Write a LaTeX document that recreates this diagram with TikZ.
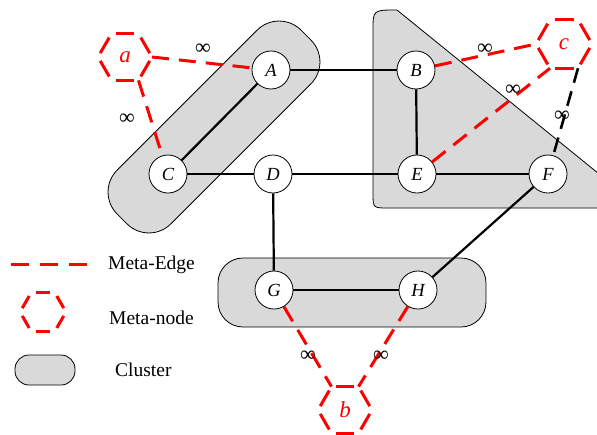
\documentclass[tikz,border=0pt]{standalone}
\usepackage{fontspec}
\setmainfont{Liberation Serif}
\usetikzlibrary{shapes.geometric}
\tikzset{
 vertex/.style={circle, draw, line width=0.8pt, fill=white, minimum size=38pt, inner sep=0pt, font=\fontsize{18.5}{20}\selectfont\itshape},
 cluster/.style={draw, line width=0.8pt, fill=gray!30},
 edge/.style={line width=2.2pt},
 metaline/.style={red, line width=3pt, dash pattern=on 17pt off 10pt},
 blackmeta/.style={black, line width=2.6pt, dash pattern=on 15pt off 9pt},
 hexnode/.style={regular polygon, regular polygon sides=6, minimum size=54pt, inner sep=0pt, outer sep=0pt, text=red, font=\fontsize{23}{24}\selectfont\itshape},
 hexside/.style={red, line width=3pt, shorten >=4.5pt, shorten <=4.5pt},
 inf/.style={font=\fontsize{22}{22}\selectfont, inner sep=0pt},
 legendtext/.style={font=\fontsize{19.5}{22}\selectfont, anchor=west, inner sep=0pt},
}
\newcommand\hexsides[1]{\foreach \p/\q in {0/60,60/120,120/180,180/240,240/300,300/360}{\draw[hexside] (#1.\p) -- (#1.\q);}}
\begin{document}
\begin{tikzpicture}[x=1pt,y=-1pt]
\useasboundingbox (0,0) rectangle (597,434);
% clusters
\node[cluster, rectangle, rounded corners=31pt, minimum width=260pt, minimum height=76pt, rotate=45] (k1) at (214,127) {};
\begin{scope}
\clip (0,0) rectangle (597,434);
\draw[cluster] (397,10) -- (641,208) -- (388,208) .. controls (373,208) .. (373,193) -- (373,30) .. controls (373,10) .. (397,10) -- cycle;
\end{scope}
\node[cluster, rectangle, rounded corners=25pt, minimum width=268pt, minimum height=69pt] (k3) at (352,292.5) {};
% vertices
\node[vertex] (A) at (271,70) {A};
\node[vertex] (B) at (416,70) {B};
\node[vertex] (C) at (168,174) {C};
\node[vertex] (D) at (273,174) {D};
\node[vertex] (E) at (417,174) {E};
\node[vertex] (F) at (548,174) {F};
\node[vertex] (G) at (274,290) {G};
\node[vertex] (H) at (418,290) {H};
% meta-nodes
\node[hexnode] (a) at (125,57) {a};
\node[hexnode, minimum size=56pt] (c) at (564,44) {c};
\node[hexnode] (b) at (345,410) {b};
\hexsides{a}
\hexsides{c}
\hexsides{b}
% edges
\draw[edge] (A) -- (B);
\draw[edge] (A) -- (C);
\draw[edge] (C) -- (D);
\draw[edge] (D) -- (E);
\draw[edge] (E) -- (F);
\draw[edge] (B) -- (E);
\draw[edge] (D) -- (G);
\draw[edge] (G) -- (H);
\draw[edge] (H) -- (F);
% meta-edges
\draw[metaline] (a.0) -- (A);
\draw[metaline] (a.-60) -- (C);
\draw[metaline] (B) -- (c.180);
\draw[metaline] (E) -- (c.-120);
\draw[blackmeta] (c.-60) -- (F);
\draw[metaline] (G) -- (b.120);
\draw[metaline] (H) -- (b.60);
% infinity labels
\node[inf] (i1) at (203,49) {∞};
\node[inf] (i2) at (127,119) {∞};
\node[inf] (i3) at (485,49) {∞};
\node[inf] (i4) at (513,90) {∞};
\node[inf] (i5) at (562,116) {∞};
\node[inf] (i6) at (308,356) {∞};
\node[inf] (i7) at (381,356) {∞};
% legend
\coordinate (le1) at (11,264);
\coordinate (le2) at (87,264);
\draw[metaline, dash pattern=on 18pt off 11pt] (le1) -- (le2);
\node[legendtext] (t1) at (108,265) {Meta-Edge};
\node[hexnode, minimum size=46pt] (lh) at (43,312) {};
\hexsides{lh}
\node[legendtext] (t2) at (109,318) {Meta-node};
\node[cluster, rectangle, rounded corners=14pt, minimum width=60pt, minimum height=30pt] (lc) at (45,370) {};
\node[legendtext] (t3) at (115,370) {Cluster};
\end{tikzpicture}
\end{document}
